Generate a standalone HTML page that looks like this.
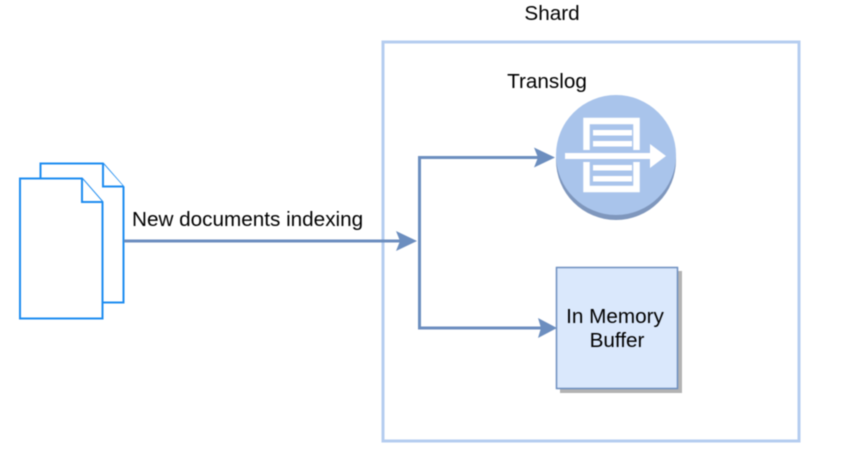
<!DOCTYPE html>
<html>
<head>
<meta charset="utf-8">
<style>
html,body{margin:0;padding:0;background:#fff;width:848px;height:459px;overflow:hidden}
svg{display:block;filter:blur(0.45px)}
text{font-family:"Liberation Sans",sans-serif;font-size:20.7px;fill:#000}
</style>
</head>
<body>
<svg width="848" height="459" viewBox="0 0 848 459" xmlns="http://www.w3.org/2000/svg">
  <!-- Shard box -->
  <rect x="383" y="42" width="416" height="399" fill="#fff" stroke="#b5cdf0" stroke-width="3"/>
  <text x="552" y="20" text-anchor="middle">Shard</text>
  <text x="547" y="88" text-anchor="middle">Translog</text>

  <!-- Documents -->
  <path d="M40.500 163.500H103L123.500 187V302.500H40.500Z" fill="#fff" stroke="#1e8cf0" stroke-width="2"/>
  <path d="M103 163.500V186.500H123.500" fill="#fff" stroke="#1e8cf0" stroke-width="2"/>
  <path d="M20 178.500H82L102.500 202V318.500H20Z" fill="#fff" stroke="#1e8cf0" stroke-width="2"/>
  <path d="M82 178.500V202H102.500" fill="#fff" stroke="#1e8cf0" stroke-width="2"/>

  <!-- Main connector -->
  <path d="M124 241H402" fill="none" stroke="#6c8ebf" stroke-width="3"/>
  <path d="M417 241L396 231L400 241L396 251Z" fill="#6c8ebf"/>
  <text x="132" y="226">New documents indexing</text>

  <!-- Branch connectors -->
  <path d="M539 157.500H419.500V328H541" fill="none" stroke="#6c8ebf" stroke-width="3"/>
  <path d="M555 157.500L534 147.500L538 157.500L534 167.500Z" fill="#6c8ebf"/>
  <path d="M557 328L538 318L541 328L538 338Z" fill="#6c8ebf"/>

  <!-- Translog icon -->
  <circle cx="616" cy="160" r="60" fill="#7f97bd"/>
  <circle cx="616" cy="155" r="60" fill="#a9c4eb"/>
  <path d="M586.500 150V121H636.500V150" fill="none" stroke="#fff" stroke-width="6.500"/>
  <path d="M586.500 162V189H636.500V162" fill="none" stroke="#fff" stroke-width="6.500"/>
  <rect x="593" y="130" width="39" height="5.500" fill="#fff"/>
  <rect x="593" y="141" width="39" height="5.500" fill="#fff"/>
  <rect x="593" y="165" width="39" height="5.500" fill="#fff"/>
  <rect x="593" y="176" width="39" height="5.500" fill="#fff"/>
  <rect x="565" y="153" width="88" height="6" fill="#fff"/>
  <path d="M666 156L650 144V168Z" fill="#fff"/>

  <!-- In Memory Buffer -->
  <rect x="560" y="271" width="122" height="122" fill="#b3b3b3"/>
  <rect x="556.500" y="267.500" width="121" height="121" fill="#dae8fc" stroke="#6c8ebf" stroke-width="1.500"/>
  <text x="615" y="323" text-anchor="middle">In Memory</text>
  <text x="617" y="347" text-anchor="middle">Buffer</text>
</svg>
</body>
</html>
